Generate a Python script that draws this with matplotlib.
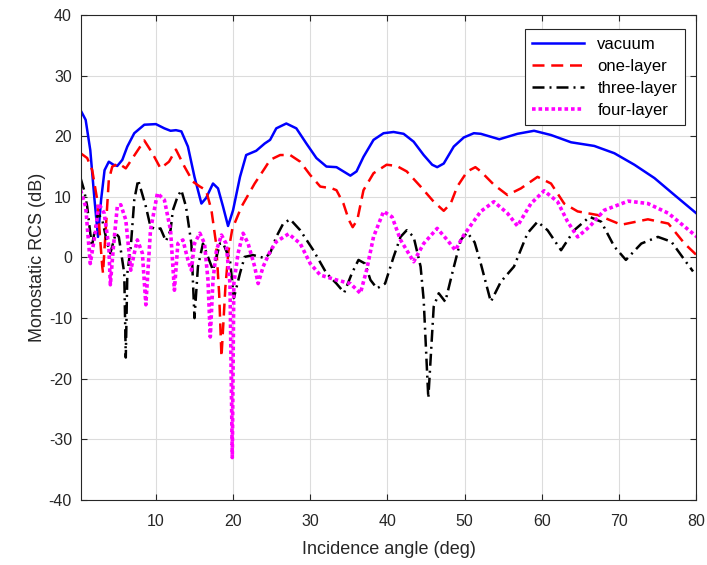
import numpy as np
import matplotlib
matplotlib.use("Agg")
from matplotlib import pyplot as plt

plt.rcParams['font.family'] = ['Liberation Sans', 'DejaVu Sans']
plt.rcParams['axes.unicode_minus'] = False

# vacuum
vac_x = [0.24, 0.9, 1.5, 2.05, 2.5, 2.9, 3.35, 3.9, 4.5, 5.0, 5.65, 6.3, 7.2, 8.5, 10.0, 11.1,
         11.9, 12.6, 13.3, 14.15, 15.0, 15.9, 16.5, 17.4, 18.05, 18.7, 19.35, 20.0, 20.9, 21.7,
         23.0, 24.1, 24.8, 25.6, 26.9, 28.2, 29.5, 30.8, 32.1, 33.4, 34.3, 35.2, 36.0, 36.9,
         38.2, 39.5, 40.8, 42.1, 43.4, 44.7, 45.8, 46.45, 47.3, 48.6, 49.9, 51.2, 52.1, 54.5,
         56.85, 59.0, 61.2, 63.8, 66.8, 69.4, 72.0, 74.6, 77.2, 80.3]
vac_y = [24.3, 22.7, 17.7, 9.5, 3.4, 9.5, 14.4, 15.8, 15.3, 15.1, 16.1, 18.3, 20.5, 21.9, 22.0, 21.3,
         20.9, 21.0, 20.8, 18.3, 13.3, 8.9, 9.8, 12.2, 11.4, 8.4, 5.2, 7.8, 13.3, 16.9,
         17.6, 18.8, 19.4, 21.3, 22.1, 21.3, 18.8, 16.4, 15.0, 14.9, 14.2, 13.5, 14.2, 16.6,
         19.4, 20.5, 20.7, 20.4, 19.1, 16.9, 15.3, 14.9, 15.5, 18.3, 19.8, 20.5, 20.4, 19.5,
         20.4, 20.9, 20.2, 19.0, 18.4, 17.2, 15.3, 13.1, 10.3, 7.0]

# one-layer
one_x = [0.24, 1.1, 1.75, 2.4, 3.05, 3.15, 3.9, 4.35, 5.2, 6.1, 7.4, 8.5, 9.55, 10.6, 11.7, 12.6,
         13.7, 14.8, 15.7, 16.5, 17.2, 17.8, 18.2, 18.5, 19.0, 19.4, 19.9, 21.1, 22.8, 24.1, 24.8,
         26.1, 27.4, 28.7, 30.0, 31.3, 32.8, 33.4, 34.3, 35.0, 35.5, 36.1, 36.9, 38.2, 39.9,
         41.2, 42.5, 44.3, 46.0, 47.3, 48.2, 49.05, 50.35, 51.4, 52.1, 53.8, 55.55, 57.3,
         59.45, 61.2, 62.9, 64.65, 67.25, 70.3, 73.75, 76.4, 78.5, 80.3]
one_y = [17.2, 16.4, 14.4, 9.5, -1.5, -2.6, 12.8, 15.0, 15.5, 14.7, 17.2, 19.3, 17.2, 14.7, 15.8, 17.8,
         15.0, 12.5, 11.7, 11.1, 7.8, 2.3, -6.0, -16.4, -5.0, 1.0, 4.7, 8.4, 12.2, 14.7, 16.1,
         16.9, 16.9, 15.8, 13.6, 11.7, 11.4, 11.1, 8.9, 6.2, 5.0, 6.2, 11.1, 13.9, 15.3,
         15.1, 14.2, 11.7, 9.2, 7.7, 8.9, 11.7, 14.2, 14.9, 14.2, 12.0, 10.3, 11.4,
         13.3, 12.2, 8.9, 7.6, 7.0, 5.4, 6.3, 5.6, 2.3, 0.1]

# three-layer
three_x = [0.24, 0.7, 1.1, 1.7, 2.5, 3.05, 3.7, 4.1, 4.8, 5.2, 5.9, 6.1, 6.3, 6.75, 7.2, 7.7,
           8.7, 9.3, 10.0, 10.6, 11.3, 11.9, 12.2, 12.8, 13.3, 13.9, 14.6, 15.0, 15.45, 16.1,
           16.75, 17.4, 18.3, 18.7, 19.6, 20.1, 20.9, 21.5, 22.6, 24.1, 24.8, 25.6, 26.5, 27.4,
           28.7, 30.4, 32.1, 33.4, 34.4, 35.4, 36.25, 37.1, 37.8, 38.65, 39.7, 40.8, 41.7,
           42.5, 43.4, 44.3, 44.7, 45.3, 46.0, 46.65, 47.5, 48.4, 49.5, 50.35, 51.3, 52.1,
           53.4, 54.7, 56.4, 58.15, 59.45, 60.75, 62.5, 64.2, 66.2, 67.7, 69.4, 70.9, 72.9,
           75.05, 76.8, 78.5, 79.6]
three_y = [13.1, 11.1, 8.4, 1.8, 7.3, 6.2, 2.3, 0.7, 4.0, 3.4, -2.6, -16.5, -2.6, 1.8, 9.5, 12.8,
           8.4, 5.1, 4.6, 4.8, 2.7, 4.5, 7.8, 10.0, 11.1, 8.4, 2.3, -10.0, -1.5, 2.3,
           0.1, -2.1, 2.3, 2.4, -0.4, -6.7, -2.6, 0.1, 0.4, -0.1, 0.7, 3.4, 5.6, 6.3,
           4.5, 1.2, -2.6, -4.3, -5.8, -2.6, -0.4, -1.0, -3.7, -5.1, -4.3, 0.1, 3.4,
           4.5, 3.4, -1.5, -7.0, -23.2, -8.1, -5.9, -7.3, -2.6, 2.9, 4.1, 2.5, -1.0,
           -7.3, -4.0, -1.5, 4.0, 5.9, 4.5, 1.2, 4.5, 6.7, 5.9, 1.8, -0.4, 2.3,
           3.4, 2.6, -0.4, -2.3]

# four-layer
four_x = [0.24, 0.9, 1.5, 2.2, 2.6, 3.3, 3.9, 4.1, 4.5, 5.0, 5.45, 6.1, 6.75, 7.2, 7.6, 8.25,
          8.7, 9.3, 10.2, 11.1, 11.9, 12.4, 12.85, 13.5, 14.15, 14.6, 15.0, 15.7, 16.3, 16.75,
          17.05, 17.4, 17.85, 18.5, 19.1, 19.6, 19.9, 20.1, 20.65, 21.3, 21.95, 22.8, 23.25,
          23.9, 24.8, 25.6, 27.2, 28.7, 30.0, 31.3, 33.4, 35.2, 36.5, 37.3, 38.2, 39.5, 40.6,
          41.7, 43.4, 44.7, 46.45, 47.75, 48.8, 49.9, 52.1, 53.8, 55.55, 56.85, 58.6, 60.3,
          62.05, 63.35, 64.65, 66.2, 68.1, 71.2, 73.75, 76.4, 78.5, 80.3]
four_y = [11.1, 8.4, -1.0, 4.5, 8.9, 7.3, 1.8, -4.5, 1.8, 8.4, 8.7, 6.2, -2.1, 0.7, 2.9, 0.7,
          -7.8, 4.5, 10.6, 9.5, 4.5, -5.4, 2.3, 2.9, -0.4, -2.1, 2.3, 4.0, 2.3, -3.7,
          -13.1, -3.7, 1.2, 3.7, 2.3, -4.3, -33.0, -4.3, 0.7, 4.0, 2.3, -1.5, -4.3,
          -1.5, 1.0, 2.6, 3.9, 2.3, -1.0, -2.9, -3.7, -4.3, -5.9, -2.1, 3.4, 7.6, 6.7,
          2.9, -0.7, 2.3, 4.8, 2.9, 1.2, 3.7, 7.6, 9.2, 7.3, 5.2, 8.9, 11.0,
          9.2, 5.9, 3.4, 5.1, 7.8, 9.3, 8.9, 7.3, 5.1, 3.2]

fig = plt.figure(figsize=(7.07, 5.65), dpi=100)
ax = fig.add_axes([0.1146, 0.115, 0.87, 0.8585])

ax.plot(vac_x, vac_y, color='#0000ff', lw=1.8, label='vacuum')
ax.plot(one_x, one_y, color='#ff0000', lw=1.8, ls=(0, (4.8, 2.7)), label='one-layer')
ax.plot(three_x, three_y, color='black', lw=1.8, ls=(0, (4.8, 2.0, 0.8, 2.0)), label='three-layer')
ax.plot(four_x, four_y, color='#ff00ff', lw=2.6, ls=(0, (1, 0.8)), label='four-layer')

ax.set_xlim(0.3, 80)
ax.set_ylim(-40, 40)
ax.set_xticks(np.arange(10, 81, 10))
ax.set_yticks(np.arange(-40, 41, 10))
ax.grid(True, color='#dcdcdc', lw=0.8)
ax.set_axisbelow(True)
ax.tick_params(direction='in', top=True, right=True, labelsize=11.5, colors='#262626',
               length=4)
ax.tick_params(axis='x', pad=10)
ax.tick_params(axis='y', pad=6.5)
for s in ax.spines.values():
    s.set_color('#262626')
    s.set_linewidth(0.8)

ax.set_xlabel('Incidence angle (deg)', fontsize=13, color='#262626', labelpad=9)
ax.set_ylabel('Monostatic RCS (dB)', fontsize=13, color='#262626', labelpad=2)

leg = ax.legend(loc='upper right', fontsize=12, fancybox=False, framealpha=1,
                edgecolor='#262626', handlelength=3.1, borderpad=0.45, labelspacing=0.42,
                bbox_to_anchor=(0.995, 0.988))
leg.get_frame().set_linewidth(0.8)

fig.savefig('out.png', dpi=100)
